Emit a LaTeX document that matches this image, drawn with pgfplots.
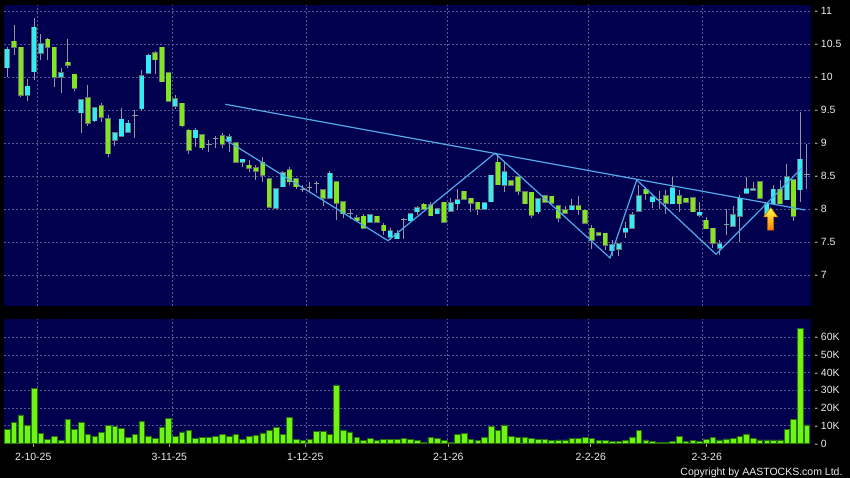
\documentclass[border=0pt]{standalone}
\usepackage{fontspec}
\setmainfont{Liberation Sans}
\usepackage{pgfplots}
\pgfplotsset{compat=1.18}
\usepackage{pgfplotstable}
\usetikzlibrary{backgrounds}
\definecolor{bgnavy}{RGB}{0,0,78}
\definecolor{gridc}{RGB}{88,88,140}
\definecolor{upc}{RGB}{50,235,245}
\definecolor{dnc}{RGB}{130,230,30}
\definecolor{rimc}{RGB}{105,110,110}
\definecolor{wickc}{RGB}{150,150,150}
\definecolor{volc}{RGB}{110,245,20}
\definecolor{volrim}{RGB}{40,110,10}
\definecolor{trendc}{RGB}{80,170,235}
\definecolor{labc}{RGB}{235,235,235}

% cyan (rising) candles: index, low, high, body low, body high
\pgfplotstableread{
i lo hi bl bh
1 10.00 10.46 10.14 10.42
4 9.64 9.97 9.72 9.86
5 9.96 10.89 10.08 10.75
6 10.25 10.65 10.36 10.50
9 9.75 10.13 10.00 10.06
12 9.15 9.65 9.46 9.65
14 9.31 9.53 9.34 9.53
17 8.96 9.15 9.04 9.15
18 9.10 9.53 9.10 9.36
19 9.16 9.35 9.16 9.30
21 9.49 10.11 9.52 10.02
22 10.06 10.35 10.06 10.33
26 9.52 9.72 9.56 9.67
29 8.94 9.23 9.08 9.19
34 8.87 9.14 9.03 9.09
36 8.64 8.75 8.71 8.75
41 8.01 8.31 8.01 8.31
42 8.34 8.58 8.34 8.55
49 8.16 8.57 8.16 8.54
55 7.80 7.93 7.80 7.91
58 7.53 7.71 7.57 7.67
59 7.55 7.68 7.55 7.63
61 7.82 7.93 7.82 7.93
62 7.91 8.04 7.96 8.02
65 7.93 8.00 7.93 8.00
67 7.97 8.17 7.97 8.09
68 7.98 8.31 8.08 8.14
72 8.00 8.09 8.00 8.09
73 8.11 8.51 8.11 8.51
75 8.26 8.71 8.36 8.56
80 7.92 8.15 7.96 8.15
85 7.99 8.15 7.99 8.05
91 7.29 7.53 7.37 7.46
92 7.29 7.47 7.39 7.47
93 7.56 7.81 7.65 7.71
94 7.71 7.96 7.71 7.91
95 7.97 8.36 7.97 8.20
97 8.02 8.21 8.11 8.18
100 8.08 8.48 8.08 8.32
104 7.88 8.11 7.91 7.95
107 7.30 7.53 7.41 7.47
109 7.74 8.05 7.74 7.91
110 7.50 8.21 7.89 8.16
111 8.24 8.48 8.24 8.31
112 8.28 8.41 8.28 8.31
114 7.91 8.08 7.91 8.08
115 8.08 8.36 8.08 8.30
117 8.14 8.68 8.14 8.49
119 8.11 9.47 8.29 8.75
}\upT

% green (falling) candles
\pgfplotstableread{
i lo hi bl bh
2 10.34 10.79 10.45 10.54
3 9.69 10.45 9.72 10.45
7 10.25 10.59 10.45 10.57
8 9.85 10.45 10.00 10.45
10 10.13 10.58 10.18 10.22
11 9.78 10.04 9.83 10.04
13 9.25 9.88 9.30 9.68
15 9.32 9.60 9.39 9.56
16 8.78 9.43 8.84 9.37
23 10.04 10.39 10.26 10.37
24 9.93 10.46 9.93 10.45
25 9.63 10.06 9.63 10.06
27 9.24 9.60 9.26 9.60
28 8.84 9.21 8.89 9.19
30 8.89 9.12 8.93 9.12
33 8.93 9.15 8.98 9.11
35 8.71 9.00 8.71 9.00
37 8.56 8.74 8.62 8.66
38 8.44 8.66 8.57 8.62
39 8.41 8.78 8.51 8.71
40 8.03 8.46 8.03 8.46
43 8.37 8.63 8.41 8.59
44 8.30 8.46 8.34 8.46
48 8.05 8.31 8.16 8.29
50 7.83 8.41 8.09 8.41
51 7.86 8.11 7.93 8.11
53 7.82 7.91 7.82 7.87
54 7.71 7.92 7.71 7.89
56 7.80 7.89 7.80 7.89
57 7.60 7.78 7.67 7.75
63 8.00 8.09 8.00 8.07
64 7.90 8.11 7.90 8.06
66 7.78 8.10 7.80 8.10
69 8.15 8.27 8.15 8.27
70 7.95 8.16 8.09 8.16
71 7.91 8.10 8.00 8.10
74 8.37 8.84 8.37 8.71
76 8.36 8.43 8.36 8.43
77 8.21 8.49 8.27 8.49
78 8.08 8.26 8.08 8.26
79 7.86 8.25 7.91 8.25
81 8.10 8.20 8.10 8.20
82 8.09 8.19 8.09 8.19
83 7.81 8.05 7.86 8.05
84 7.94 8.04 7.94 7.99
86 7.91 8.20 7.99 8.05
87 7.78 7.98 7.78 7.98
88 7.39 7.75 7.53 7.71
89 7.60 7.64 7.60 7.64
90 7.38 7.63 7.45 7.63
96 8.14 8.34 8.23 8.30
99 7.93 8.29 8.09 8.20
101 7.96 8.29 8.08 8.20
102 8.10 8.16 8.10 8.16
103 7.96 8.17 7.96 8.17
105 7.70 7.88 7.70 7.83
106 7.41 7.71 7.48 7.71
113 8.16 8.41 8.16 8.41
116 8.08 8.44 8.08 8.30
118 7.82 8.44 7.89 8.44
}\dnT

% unchanged (doji) candles: index, low, high, open=close
\pgfplotstableread{
i lo hi m
20 9.07 9.50 9.41
31 8.87 9.05 8.97
32 8.93 9.11 9.06
45 8.26 8.36 8.30
46 8.26 8.41 8.32
47 8.24 8.43 8.39
52 7.85 8.00 7.93
60 7.55 7.87 7.84
98 8.00 8.27 8.15
108 7.61 8.00 7.77
120 8.30 8.99 8.52
}\dojiT

% volume in thousands
\pgfplotstableread{
i v
1 8.0
2 11.8
3 16.1
4 10.1
5 31.0
6 5.8
7 2.4
8 4.1
9 1.9
10 13.5
11 7.9
12 12.0
13 5.2
14 4.1
15 6.4
16 10.1
17 9.7
18 8.4
19 3.6
20 5.0
21 12.3
22 4.3
23 3.0
24 9.0
25 14.0
26 4.1
27 6.5
28 7.5
29 3.0
30 3.6
31 3.4
32 3.9
33 5.2
34 3.9
35 5.2
36 2.2
37 4.1
38 4.7
39 6.0
40 7.5
41 9.0
42 5.0
43 14.6
44 2.2
45 1.7
46 2.2
47 6.9
48 6.9
49 5.2
50 33.1
51 7.7
52 6.5
53 3.6
54 1.7
55 2.8
56 1.7
57 2.4
58 2.4
59 2.1
60 2.8
61 2.1
62 1.9
63 0.7
64 3.6
65 3.0
66 1.7
67 0.7
68 5.0
69 5.8
70 2.4
71 1.9
72 3.2
73 9.7
74 7.5
75 10.5
76 4.1
77 3.4
78 3.6
79 3.0
80 2.4
81 2.4
82 1.9
83 2.0
84 2.0
85 2.8
86 3.1
87 3.5
88 3.1
89 1.5
90 1.7
91 1.3
92 1.3
93 1.8
94 3.7
95 7.4
96 2.0
97 1.3
98 0.6
99 0.6
100 1.1
101 4.2
102 1.3
103 1.8
104 1.3
105 2.4
106 3.3
107 2.0
108 2.6
109 2.8
110 4.1
111 5.4
112 3.0
113 2.0
114 2.0
115 2.0
116 2.0
117 7.9
118 13.7
119 65.0
120 10.5
}\volT

\pgfplotsset{
  panel/.style={
    scale only axis,
    width=807pt,
    xmin=0.51, xmax=120.6,
    enlargelimits=false,
    axis background/.style={fill=bgnavy},
    axis line style={draw=none},
    ymajorgrids,
    major grid style={draw=gridc, dash pattern=on 2pt off 2pt, line width=0.7pt},
    extra x ticks={5.5,25.5,45.5,66.5,87.5,104.5},
    extra x tick style={grid=major, major tick length=0pt, tick style={draw=none}, xticklabel={}},
    yticklabel pos=right,
    ytick pos=right,
    y tick style={draw=none},
    yticklabel style={font=\fontsize{10.5}{12}\selectfont, text=labc, anchor=west},
    xticklabel style={font=\fontsize{10.5}{12}\selectfont, text=labc},
  },
  wick/.style={draw=none, mark=none, forget plot,
    error bars/.cd, y dir=plus, y explicit, error mark=none,
    error bar style={draw=wickc, line width=1pt, solid}},
  body/.style 2 args={draw=none, mark=none, forget plot,
    error bars/.cd, y dir=plus, y explicit, error mark=none,
    error bar style={draw=#1, line width=#2, solid, line cap=butt}},
}

\begin{document}
\begin{tikzpicture}

% ---------------- price panel ----------------
\begin{axis}[panel, name=price,
  at={(0pt,0pt)}, anchor=north west, height=301pt,
  ymin=6.53, ymax=11.09,
  xtick=\empty,
  ytick={7,7.5,8,8.5,9,9.5,10,10.5,11},
  yticklabels={- 7,- 7.5,- 8,- 8.5,- 9,- 9.5,- 10,- 10.5,- 11},
]
% wicks
\addplot[wick] table[x=i, y=lo, y error expr=\thisrow{hi}-\thisrow{lo}] \upT;
\addplot[wick] table[x=i, y=lo, y error expr=\thisrow{hi}-\thisrow{lo}] \dnT;
\addplot[wick] table[x=i, y=lo, y error expr=\thisrow{hi}-\thisrow{lo}] \dojiT;
% bodies: rim then fill
\addplot[body={rimc}{5.6pt}] table[x=i, y expr=\thisrow{bl}-0.009, y error expr=\thisrow{bh}-\thisrow{bl}+0.018] \upT;
\addplot[body={upc}{4.2pt}] table[x=i, y=bl, y error expr=\thisrow{bh}-\thisrow{bl}] \upT;
\addplot[body={rimc}{5.6pt}] table[x=i, y expr=\thisrow{bl}-0.009, y error expr=\thisrow{bh}-\thisrow{bl}+0.018] \dnT;
\addplot[body={dnc}{4.2pt}] table[x=i, y=bl, y error expr=\thisrow{bh}-\thisrow{bl}] \dnT;
% doji crosses
\addplot[only marks, mark=-, mark size=2.8pt, mark options={draw=wickc, line width=1pt}, forget plot] table[x=i, y=m] \dojiT;
% trend lines
\addplot[trendc, line width=1.2pt, forget plot] coordinates {(33.44,9.586) (119.7,7.985)};
\addplot[trendc, line width=1.2pt, forget plot] coordinates {
  (33.44,9.05) (57.65,7.52) (73.57,8.844) (90.69,7.258) (94.66,8.44) (106.46,7.314) (119.26,8.62)};
% breakout arrow
\shadedraw[draw=orange!85!black, top color=yellow!70!white, bottom color=orange, line width=0.5pt]
  (axis cs:114.6,8.02) -- (axis cs:115.64,7.88) -- (axis cs:115.05,7.88) -- (axis cs:115.05,7.68)
  -- (axis cs:114.15,7.68) -- (axis cs:114.15,7.88) -- (axis cs:113.56,7.88) -- cycle;
\end{axis}

% ---------------- volume panel ----------------
\begin{axis}[panel, name=vol,
  at={(price.south west)}, anchor=north west, yshift=-13pt, height=124.5pt,
  ymin=0, ymax=70.3,
  xtick={4.87,25.11,45.35,66.63,87.82,105.08},
  xticklabels={2-10-25,3-11-25,1-12-25,2-1-26,2-2-26,2-3-26},
  xtick pos=bottom,
  tick align=outside,
  major tick length=3pt,
  x tick style={draw=labc!70!black, line width=0.6pt},
  xticklabel style={yshift=-3pt},
  yticklabel style={xshift=-3pt},
  ytick={0,10,20,30,40,50,60},
  yticklabels={- 0,- 10K,- 20K,- 30K,- 40K,- 50K,- 60K},
]
\addplot[ybar, bar width=5.6pt, fill=volc, draw=volrim, line width=0.7pt] table[x=i, y=v] \volT;
\end{axis}

\node[anchor=base east, text=labc, font=\fontsize{10.5}{12}\selectfont]
  at ([xshift=842pt,yshift=-470.7pt]price.north west) {Copyright by AASTOCKS.com Ltd.};

\begin{scope}[on background layer]
\fill[black] ([xshift=-4pt,yshift=5pt]price.north west) rectangle ++(850pt,-478pt);
\end{scope}
\pgfresetboundingbox
\useasboundingbox ([xshift=-4pt,yshift=5pt]price.north west) rectangle ++(850pt,-478pt);
\end{tikzpicture}
\end{document}
